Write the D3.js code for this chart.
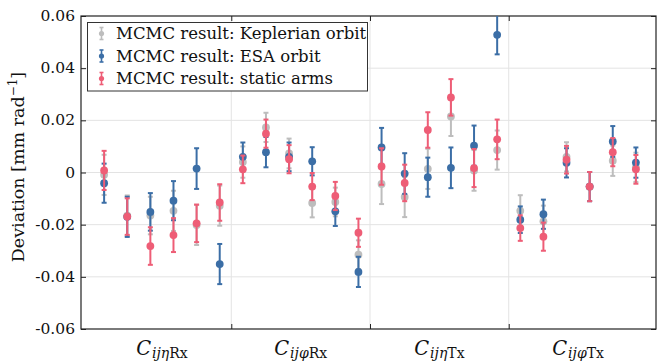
<!DOCTYPE html>
<html>
<head>
<meta charset="utf-8">
<script src="https://cdn.jsdelivr.net/npm/d3@7"></script>
<style>
  body { margin: 0; background: #fff; }
  text { font-family: "DejaVu Serif", "Liberation Serif", serif; }
</style>
</head>
<body>
<script>
// data, 6 coefficients in each of 4 groups
var groups = ["ηRx", "φRx", "ηTx", "φTx"];
var seriesNames = ["MCMC result: Keplerian orbit", "MCMC result: ESA orbit", "MCMC result: static arms"];
var seriesColors = ["#bdbdbd", "#3b6ea6", "#ee5d76"];
var yTicks = [-0.06, -0.04, -0.02, 0, 0.02, 0.04, 0.06];

var kepler = [-0.0009, -0.0165, -0.0165, -0.0147, -0.0201, -0.0127,
               0.0040,  0.0173,  0.0073, -0.0117, -0.0113, -0.0315,
              -0.0044, -0.0094,  0.0014,  0.0215,  0.0008,  0.0086,
              -0.0147, -0.0187,  0.0060, -0.0054,  0.0045,  0.0020];
var keplerErr = [0.0077, 0.0077, 0.0072, 0.0077, 0.0077, 0.0077,
                 0.0060, 0.0056, 0.0057, 0.0055, 0.0055, 0.0055,
                 0.0077, 0.0077, 0.0077, 0.0075, 0.0078, 0.0075,
                 0.0060, 0.0060, 0.0056, 0.0056, 0.0058, 0.0056];

var esa = [-0.0041, -0.0170, -0.0151, -0.0108,  0.0015, -0.0351,
            0.0060,  0.0078,  0.0060,  0.0043, -0.0149, -0.0381,
            0.0096, -0.0004, -0.0018,  0.0018,  0.0103,  0.0528,
           -0.0181, -0.0160,  0.0037, -0.0054,  0.0119,  0.0038];
var esaErr = [0.0075, 0.0077, 0.0072, 0.0075, 0.0078, 0.0077,
              0.0055, 0.0058, 0.0055, 0.0054, 0.0056, 0.0058,
              0.0075, 0.0078, 0.0075, 0.0078, 0.0077, 0.0075,
              0.0051, 0.0056, 0.0056, 0.0056, 0.0059, 0.0058];

var staticArms = [ 0.0008, -0.0169, -0.0282, -0.0240, -0.0195, -0.0115,
                   0.0012,  0.0149,  0.0051, -0.0054, -0.0090, -0.0231,
                   0.0023, -0.0040,  0.0163,  0.0288,  0.0017,  0.0127,
                  -0.0213, -0.0246,  0.0049, -0.0054,  0.0078,  0.0012];
var staticErr = [0.0075, 0.0070, 0.0072, 0.0065, 0.0072, 0.0070,
                 0.0053, 0.0054, 0.0054, 0.0052, 0.0054, 0.0054,
                 0.0070, 0.0070, 0.0068, 0.0070, 0.0073, 0.0076,
                 0.0049, 0.0054, 0.0053, 0.0056, 0.0054, 0.0055];

var width = 657, height = 362;
var plotL = 81, plotR = 656, plotT = 16, plotB = 329;

var svg = d3.select("body").append("svg")
    .attr("width", width)
    .attr("height", height);

var x = d3.scaleLinear().domain([0, 24.87]).range([plotL, plotR]);
var y = d3.scaleLinear().domain([-0.06, 0.06]).range([plotB, plotT]);

// gridlines
svg.selectAll("line.hgrid")
    .data(yTicks.slice(1, -1))
    .enter().append("line")
    .attr("x1", plotL).attr("x2", plotR)
    .attr("y1", d => y(d)).attr("y2", d => y(d))
    .attr("stroke", "#e3e3e3").attr("stroke-width", 1);

var seps = [6.5, 12.5, 18.5];
svg.selectAll("line.vgrid")
    .data(seps)
    .enter().append("line")
    .attr("x1", d => x(d)).attr("x2", d => x(d))
    .attr("y1", plotT).attr("y2", plotB)
    .attr("stroke", "#e3e3e3").attr("stroke-width", 1);

// y axis, ticks inward
var yAxis = svg.append("g")
    .attr("transform", "translate(" + plotL + ",0)")
    .call(d3.axisRight(y).tickValues(yTicks).tickSize(5).tickFormat(""));
yAxis.select(".domain").remove();
var yAxisR = svg.append("g")
    .attr("transform", "translate(" + plotR + ",0)")
    .call(d3.axisLeft(y).tickValues(yTicks).tickSize(5).tickFormat(""));
yAxisR.select(".domain").remove();

svg.selectAll("text.ylab")
    .data(yTicks)
    .enter().append("text")
    .attr("x", plotL - 6)
    .attr("y", d => y(d) + 5)
    .attr("text-anchor", "end")
    .attr("font-size", 15.5)
    .attr("fill", "#111")
    .text(d => d == 0 ? "0" : d3.format(".2f")(d).replace("−", "-"));

// x ticks at group separators (top and bottom)
var xAxisB = svg.append("g")
    .attr("transform", "translate(0," + plotB + ")")
    .call(d3.axisTop(x).tickValues(seps).tickSize(5).tickFormat(""));
xAxisB.select(".domain").remove();
var xAxisT = svg.append("g")
    .attr("transform", "translate(0," + plotT + ")")
    .call(d3.axisBottom(x).tickValues(seps).tickSize(5).tickFormat(""));
xAxisT.select(".domain").remove();
svg.selectAll(".tick line").attr("stroke", "#222");

// frame
svg.append("rect")
    .attr("x", plotL).attr("y", plotT)
    .attr("width", plotR - plotL).attr("height", plotB - plotT)
    .attr("fill", "none").attr("stroke", "#222").attr("stroke-width", 1.2);

// group labels C_{ij..}
groups.forEach(function(g, i) {
    var t = svg.append("text")
        .attr("x", x(i * 6 + 3.5))
        .attr("y", 354.5)
        .attr("text-anchor", "middle")
        .attr("fill", "#111");
    t.append("tspan").attr("font-style", "italic").attr("font-size", 19.5).text("C");
    t.append("tspan").attr("font-style", "italic").attr("font-size", 14)
        .attr("dy", 3).attr("dx", 1).text("ij" + g.charAt(0));
    t.append("tspan").attr("font-size", 14).text(g.slice(1));
});

// y label
svg.append("text")
    .attr("transform", "translate(24," + 167 + ") rotate(-90)")
    .attr("text-anchor", "middle")
    .attr("font-size", 17.5)
    .attr("fill", "#111")
    .html("Deviation [mm rad<tspan dy='-7' font-size='12'>−1</tspan><tspan dy='7'>]</tspan>");

// error bar series
var series = [
    {vals: kepler, errs: keplerErr},
    {vals: esa, errs: esaErr},
    {vals: staticArms, errs: staticErr}
];

series.forEach(function(s, k) {
    var g = svg.append("g");
    var pts = s.vals.map((v, i) => ({i: i + 1, v: v, e: s.errs[i]}));
    var col = seriesColors[k];
    g.selectAll("line.bar").data(pts).enter().append("line")
        .attr("x1", d => x(d.i)).attr("x2", d => x(d.i))
        .attr("y1", d => y(Math.min(d.v + d.e, 0.06))).attr("y2", d => y(d.v - d.e))
        .attr("stroke", col).attr("stroke-width", 2);
    g.selectAll("line.capt").data(pts.filter(d => d.v + d.e <= 0.06)).enter().append("line")
        .attr("x1", d => x(d.i) - 2.5).attr("x2", d => x(d.i) + 2.5)
        .attr("y1", d => y(d.v + d.e)).attr("y2", d => y(d.v + d.e))
        .attr("stroke", col).attr("stroke-width", 2);
    g.selectAll("line.capb").data(pts).enter().append("line")
        .attr("x1", d => x(d.i) - 2.5).attr("x2", d => x(d.i) + 2.5)
        .attr("y1", d => y(d.v - d.e)).attr("y2", d => y(d.v - d.e))
        .attr("stroke", col).attr("stroke-width", 2);
    g.selectAll("circle").data(pts).enter().append("circle")
        .attr("cx", d => x(d.i)).attr("cy", d => y(d.v))
        .attr("r", 3.9).attr("fill", col);
});

// legend
var lg = svg.append("g");
lg.append("rect")
    .attr("x", 87.5).attr("y", 22.5)
    .attr("width", 280).attr("height", 68.5)
    .attr("fill", "#fff").attr("stroke", "#333").attr("stroke-width", 1);
seriesNames.forEach(function(n, k) {
    var cy = 33.5 + k * 22.5, cx = 101.5, col = seriesColors[k];
    lg.append("line").attr("x1", cx).attr("x2", cx).attr("y1", cy - 6).attr("y2", cy + 6)
        .attr("stroke", col).attr("stroke-width", 1.6);
    [cy - 6, cy + 6].forEach(function(cyy) {
        lg.append("line").attr("x1", cx - 2).attr("x2", cx + 2).attr("y1", cyy).attr("y2", cyy)
            .attr("stroke", col).attr("stroke-width", 1.6);
    });
    lg.append("circle").attr("cx", cx).attr("cy", cy).attr("r", 2.6).attr("fill", col);
    lg.append("text")
        .attr("x", 116).attr("y", cy + 5.5)
        .attr("font-size", 16.5)
        .attr("fill", "#111")
        .text(n);
});
</script>
</body>
</html>
